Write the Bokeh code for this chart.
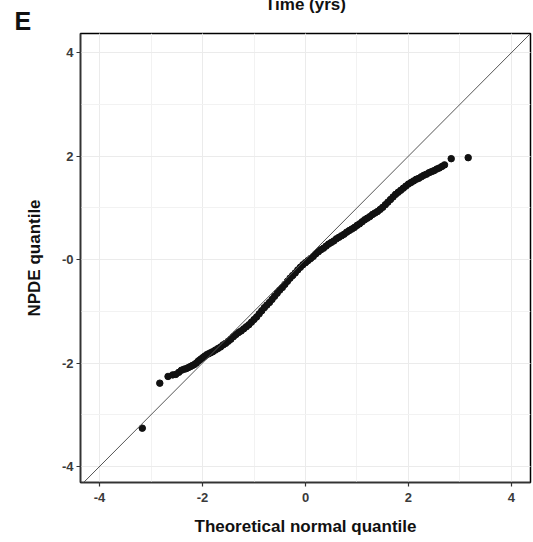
from bokeh.plotting import figure
from bokeh.models import Range1d, SingleIntervalTicker, Slope, Title
from bokeh.embed import file_html
from bokeh.resources import INLINE

# ---- data ----
theoretical_q = [
    -3.17, -2.83, -2.67, -2.58, -2.52, -2.46, -2.41, -2.36, -2.32, -2.28,
    -2.24, -2.20, -2.16, -2.12, -2.08, -2.04, -2.00, -1.96, -1.92, -1.88,
    -1.84, -1.80, -1.75, -1.70, -1.65, -1.60, -1.55, -1.50, -1.45, -1.40,
    -1.35, -1.30, -1.25, -1.20, -1.15, -1.10, -1.05, -1.00, -0.95, -0.90,
    -0.85, -0.80, -0.75, -0.70, -0.65, -0.60, -0.55, -0.50, -0.45, -0.40,
    -0.35, -0.30, -0.25, -0.20, -0.15, -0.10, -0.05, 0.00, 0.05, 0.10,
    0.15, 0.20, 0.25, 0.30, 0.35, 0.40, 0.45, 0.50, 0.55, 0.60,
    0.65, 0.70, 0.75, 0.80, 0.85, 0.90, 0.95, 1.00, 1.05, 1.10,
    1.15, 1.20, 1.25, 1.30, 1.35, 1.40, 1.45, 1.50, 1.55, 1.60,
    1.65, 1.70, 1.75, 1.80, 1.85, 1.90, 1.95, 2.00, 2.05, 2.10,
    2.15, 2.20, 2.25, 2.30, 2.35, 2.40, 2.45, 2.50, 2.55, 2.60,
    2.65, 2.70, 2.83, 3.16,
]
npde_q = [
    -3.26, -2.39, -2.26, -2.23, -2.22, -2.18, -2.14, -2.12, -2.11, -2.09,
    -2.07, -2.05, -2.03, -2.00, -1.96, -1.93, -1.90, -1.87, -1.84, -1.82,
    -1.80, -1.78, -1.75, -1.72, -1.69, -1.65, -1.62, -1.58, -1.54, -1.49,
    -1.45, -1.41, -1.38, -1.34, -1.30, -1.26, -1.21, -1.16, -1.11, -1.05,
    -0.99, -0.93, -0.88, -0.83, -0.77, -0.71, -0.65, -0.59, -0.54, -0.48,
    -0.42, -0.36, -0.31, -0.26, -0.20, -0.15, -0.10, -0.06, -0.02, 0.02,
    0.06, 0.11, 0.15, 0.19, 0.22, 0.26, 0.30, 0.33, 0.36, 0.40,
    0.43, 0.46, 0.49, 0.53, 0.56, 0.59, 0.62, 0.66, 0.69, 0.73,
    0.77, 0.80, 0.83, 0.87, 0.90, 0.93, 0.97, 1.01, 1.06, 1.11,
    1.16, 1.21, 1.26, 1.30, 1.34, 1.38, 1.42, 1.46, 1.49, 1.52,
    1.55, 1.57, 1.60, 1.63, 1.65, 1.68, 1.70, 1.72, 1.75, 1.77,
    1.80, 1.83, 1.95, 1.97,
]
x_tick_labels = {-4: "-4", -2: "-2", 0: "0", 2: "2", 4: "4"}
y_tick_labels = {-4: "-4", -2: "-2", 0: "-0", 2: "2", 4: "4"}
panel_letter = "E"
clipped_title = "Time (yrs)"
x_title = "Theoretical normal quantile"
y_title = "NPDE quantile"

FONT = "Liberation Sans"
TICK_COL = "#3a3a3a"

p = figure(
    width=533, height=542,
    x_range=Range1d(-4.37, 4.37), y_range=Range1d(-4.31, 4.37),
    output_backend="svg", toolbar_location=None,
    min_border_left=80, min_border_right=3,
    min_border_top=0, min_border_bottom=60,
    background_fill_color="white", border_fill_color="white",
)
p.title.text = ""
p.outline_line_color = "black"
p.outline_line_width = 1.5

for ax in (p.xaxis[0], p.yaxis[0]):
    ax.ticker = SingleIntervalTicker(interval=2, num_minor_ticks=2)
    ax.axis_line_color = "#333333"
    ax.axis_line_width = 1.5
    ax.major_tick_line_color = "#333333"
    ax.major_tick_line_width = 1.2
    ax.major_tick_out = 4
    ax.major_tick_in = 0
    ax.minor_tick_line_color = None
    ax.major_label_text_font = FONT
    ax.major_label_text_font_style = "bold"
    ax.major_label_text_font_size = "13px"
    ax.major_label_text_color = TICK_COL
    ax.axis_label_text_font = FONT
    ax.axis_label_text_font_style = "bold"
    ax.axis_label_text_font_size = "17px"
    ax.axis_label_text_color = "#111111"

p.xaxis[0].major_label_overrides = x_tick_labels
p.yaxis[0].major_label_overrides = y_tick_labels
p.xaxis[0].axis_label = x_title
p.yaxis[0].axis_label = y_title
p.xaxis[0].major_label_standoff = 6
p.yaxis[0].major_label_standoff = 3
p.xaxis[0].axis_label_standoff = 12
p.yaxis[0].axis_label_standoff = 15

for g in (p.xgrid[0], p.ygrid[0]):
    g.ticker = SingleIntervalTicker(interval=2, num_minor_ticks=2)
    g.grid_line_color = "#EBEBEB"
    g.grid_line_width = 1
    g.minor_grid_line_color = "#F2F2F2"
    g.minor_grid_line_width = 1

p.add_layout(Slope(gradient=1, y_intercept=0, line_color="#555555", line_width=1))

p.scatter(theoretical_q, npde_q, size=6.5, color="#111111", line_color="#111111")

t_letter = Title(text=panel_letter, align="left", offset=-66, standoff=-3,
                 text_font=FONT, text_font_style="bold", text_font_size="25px",
                 text_color="#111111")
t_time = Title(text=clipped_title, align="center", standoff=-15,
               text_font=FONT, text_font_style="bold", text_font_size="17px",
               text_color="#111111")
p.add_layout(t_letter, "above")
p.add_layout(t_time, "above")

open("out.html", "w").write(file_html(p, INLINE))
